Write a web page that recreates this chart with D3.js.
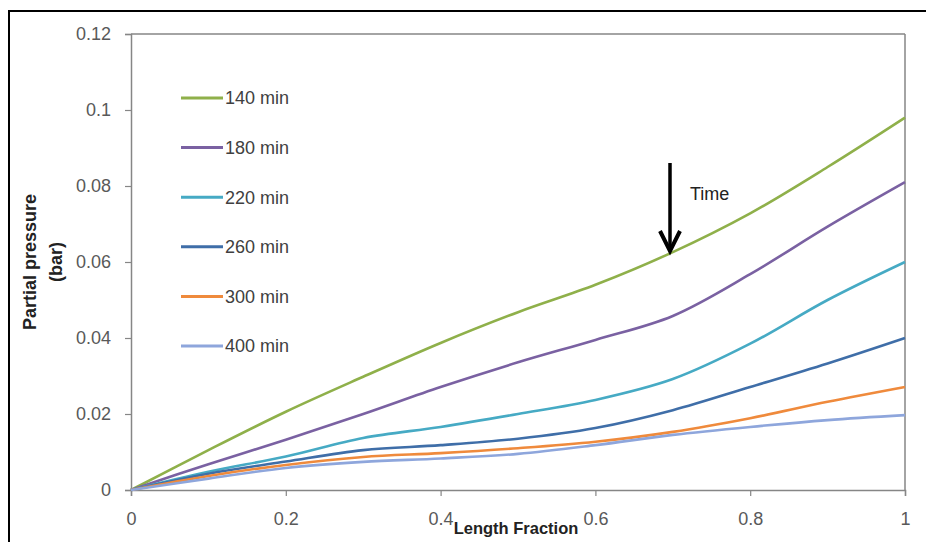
<!DOCTYPE html>
<html>
<head>
<meta charset="utf-8">
<script src="https://cdn.jsdelivr.net/npm/d3@7"></script>
<style>
  html, body { margin: 0; padding: 0; background: #fff; }
  svg { display: block; }
  text { font-family: "Liberation Sans", Arial, sans-serif; }
</style>
</head>
<body>
<svg id="chart" width="926" height="542"></svg>
<script>
// ---- data ----
const lengthFraction = [0, 0.1, 0.2, 0.3, 0.4, 0.5, 0.6, 0.7, 0.8, 0.9, 1.0];
const seriesNames = ["140 min", "180 min", "220 min", "260 min", "300 min", "400 min"];
const p140 = [0, 0.0105, 0.0206, 0.0298, 0.0387, 0.0468, 0.0540, 0.0626, 0.0728, 0.0850, 0.0980];
const p180 = [0, 0.0068, 0.0132, 0.0200, 0.0271, 0.0336, 0.0395, 0.0458, 0.0568, 0.0693, 0.0810];
const p220 = [0, 0.0048, 0.0088, 0.0137, 0.0166, 0.0200, 0.0237, 0.0292, 0.0385, 0.0500, 0.0600];
const p260 = [0, 0.0043, 0.0075, 0.0105, 0.0118, 0.0135, 0.0163, 0.0210, 0.0271, 0.0333, 0.0400];
const p300 = [0, 0.0037, 0.0066, 0.0087, 0.0097, 0.0110, 0.0127, 0.0153, 0.0189, 0.0232, 0.0271];
const p400 = [0, 0.0030, 0.0058, 0.0074, 0.0083, 0.0095, 0.0118, 0.0145, 0.0166, 0.0184, 0.0197];
const xTicks = [0, 0.2, 0.4, 0.6, 0.8, 1];
const yTicks = [0, 0.02, 0.04, 0.06, 0.08, 0.1, 0.12];
const seriesValues = [p140, p180, p220, p260, p300, p400];
const colors = ["#8fb04a", "#7a61a2", "#46aac4", "#3f6ea8", "#ef8a3c", "#8ea6dc"];

// ---- layout ----
const svg = d3.select("#chart");
const L = 131, R = 905, T = 34, B = 490;
const x = d3.scaleLinear().domain([0, 1]).range([L, R]);
const y = d3.scaleLinear().domain([0, 0.12]).range([B, T]);

// outer frame
svg.append("rect").attr("x", 9).attr("y", 11).attr("width", 1000).attr("height", 1000)
  .attr("fill", "none").attr("stroke", "#000").attr("stroke-width", 2);

const axisColor = "#868686";
// plot frame top & right
svg.append("line").attr("x1", L).attr("x2", R).attr("y1", T).attr("y2", T)
  .attr("stroke", axisColor).attr("stroke-width", 1.5);
svg.append("line").attr("x1", R).attr("x2", R).attr("y1", T).attr("y2", B)
  .attr("stroke", axisColor).attr("stroke-width", 1.5);

// axes
const yAxis = d3.axisLeft(y).tickValues(yTicks).tickSize(6).tickPadding(14)
  .tickFormat(d => d === 0 ? "0" : d3.format("")(+d.toFixed(2)));
const gy = svg.append("g").attr("transform", `translate(${L},0)`).call(yAxis);
const xAxis = d3.axisBottom(x).tickValues(xTicks).tickSize(6).tickPadding(16)
  .tickFormat(d => d === 0 ? "0" : d === 1 ? "1" : d3.format("")(+d.toFixed(1)));
const gx = svg.append("g").attr("transform", `translate(0,${B})`).call(xAxis);
[gx, gy].forEach(g => {
  g.select(".domain").attr("stroke", axisColor).attr("stroke-width", 1.5);
  g.selectAll(".tick line").attr("stroke", axisColor).attr("stroke-width", 1.2);
  g.selectAll(".tick text").attr("fill", "#595959").style("font-size", "18px");
});

// lines
const line = d3.line().x((d, i) => x(lengthFraction[i])).y(d => y(d)).curve(d3.curveCatmullRom.alpha(0.5));
seriesValues.forEach((vals, k) => {
  svg.append("path").datum(vals).attr("d", line)
    .attr("fill", "none").attr("stroke", colors[k]).attr("stroke-width", 2.6)
    .attr("stroke-linejoin", "round");
});

// legend
const legY0 = 98, legDy = 49.6;
seriesNames.forEach((name, k) => {
  const yy = legY0 + k * legDy;
  svg.append("line").attr("x1", 181).attr("x2", 223).attr("y1", yy).attr("y2", yy)
    .attr("stroke", colors[k]).attr("stroke-width", 3);
  svg.append("text").attr("x", 225).attr("y", yy).attr("dy", "0.35em")
    .attr("fill", "#404040").style("font-size", "18px").text(name);
});

// arrow annotation
const ax = 670;
svg.append("line").attr("x1", ax).attr("x2", ax).attr("y1", 163).attr("y2", 250)
  .attr("stroke", "#000").attr("stroke-width", 3.5);
svg.append("path").attr("d", `M${ax - 10},231 L${ax},251 L${ax + 10},231`)
  .attr("fill", "none").attr("stroke", "#000").attr("stroke-width", 4).attr("stroke-linejoin", "miter");
svg.append("text").attr("x", 690).attr("y", 194).attr("dy", "0.35em")
  .attr("fill", "#222").style("font-size", "18px").text("Time");

// axis titles
const yt = svg.append("text").attr("transform", "translate(30,262) rotate(-90)")
  .attr("text-anchor", "middle").attr("font-weight", "bold").attr("fill", "#222")
  .style("font-size", "18px");
yt.append("tspan").attr("x", 0).attr("dy", "0.35em").text("Partial pressure");
yt.append("tspan").attr("x", 0).attr("dy", "1.45em").text("(bar)");

svg.append("text").attr("x", 516).attr("y", 534).attr("text-anchor", "middle")
  .attr("font-weight", "bold").attr("fill", "#222").style("font-size", "16.5px")
  .text("Length Fraction");
</script>
</body>
</html>
